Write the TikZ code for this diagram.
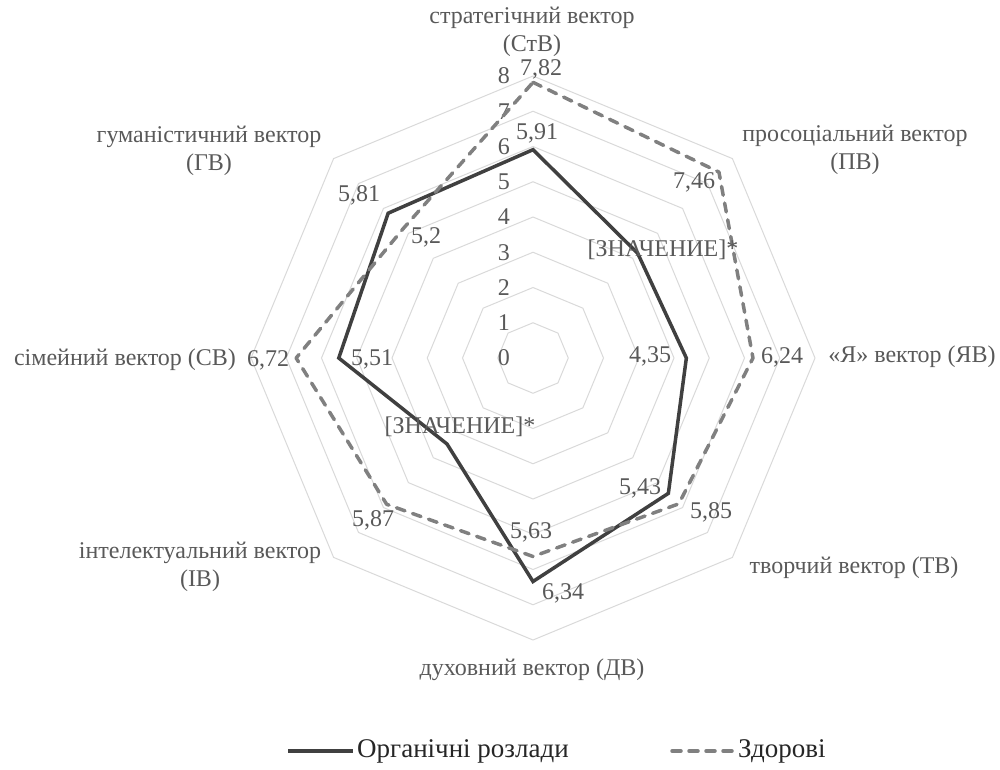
\documentclass[tikz,border=0pt]{standalone}
\usepackage{fontspec}
\setmainfont{Liberation Serif}
\definecolor{gridgray}{HTML}{D9D9D9}
\definecolor{txtgray}{HTML}{595959}
\definecolor{solidcol}{HTML}{404040}
\definecolor{dashcol}{HTML}{808080}
\definecolor{legtxt}{HTML}{262626}
\begin{document}
\begin{tikzpicture}[x=1pt,y=-1pt,
  gridline/.style={draw=gridgray, line width=1pt},
  lab/.style={text=txtgray, font=\fontsize{24}{28}\selectfont, inner sep=0pt, align=center},
  vlab/.style={text=txtgray, font=\fontsize{24}{28}\selectfont, inner sep=0pt},
  ringlab/.style={text=txtgray, font=\fontsize{24}{28}\selectfont, inner sep=0pt, anchor=east},
  legtext/.style={text=legtxt, font=\fontsize{27}{31}\selectfont, inner sep=0pt, anchor=west},
  solidser/.style={draw=solidcol, line width=3.5pt, line join=miter},
  dashser/.style={draw=dashcol, line width=3.5pt, line cap=round, line join=round, dash pattern=on 9pt off 8pt}]
\useasboundingbox (0,0) rectangle (1000,769);
\def\cx{533}\def\cy{358}\def\unitR{35.25}
% grid rings
\foreach \r in {1,...,8}{
  \draw[gridline] ({\cx},{\cy-\r*\unitR})
    \foreach \k in {1,...,7}{ -- ({\cx+\r*\unitR*sin(45*\k)},{\cy-\r*\unitR*cos(45*\k)}) } -- cycle;
  \node[ringlab] (r\r) at (510,{\cy-\r*\unitR}) {\r};
}
\node[ringlab] (r0) at (510,\cy) {0};
% data points
\foreach \v [count=\k from 0] in {5.91,4.2,4.35,5.43,6.34,3.45,5.51,5.81}{
  \coordinate (s\k) at ({\cx+\unitR*\v*sin(45*\k)},{\cy-\unitR*\v*cos(45*\k)});
}
\foreach \v [count=\k from 0] in {7.82,7.46,6.24,5.85,5.63,5.87,6.72,5.2}{
  \coordinate (d\k) at ({\cx+\unitR*\v*sin(45*\k)},{\cy-\unitR*\v*cos(45*\k)});
}
\draw[solidser] (s0) -- (s1) -- (s2) -- (s3) -- (s4) -- (s5) -- (s6) -- (s7) -- cycle;
\draw[dashser] (d0) -- (d1) -- (d2) -- (d3) -- (d4) -- (d5) -- (d6) -- (d7) -- cycle;
% axis labels
\node[lab] (aSt) at (532,32) {стратегічний вектор\\(СтВ)};
\node[lab] (aP) at (855,150) {просоціальний вектор\\(ПВ)};
\node[lab] (aJa) at (912,357) {«Я» вектор (ЯВ)};
\node[lab] (aT) at (854,568) {творчий вектор (ТВ)};
\node[lab] (aD) at (532,670) {духовний вектор (ДВ)};
\node[lab] (aI) at (200,567) {інтелектуальний вектор\\(ІВ)};
\node[lab] (aS) at (125,360) {сімейний вектор (СВ)};
\node[lab] (aG) at (209,151) {гуманістичний вектор\\(ГВ)};
% solid series labels
\node[vlab] (ls0) at (537,133) {5,91};
\node[vlab] (ls1) at (663,250) {[ЗНАЧЕНИЕ]*};
\node[vlab] (ls2) at (650,356) {4,35};
\node[vlab] (ls3) at (640,488) {5,43};
\node[vlab] (ls4) at (563,593) {6,34};
\node[vlab] (ls5) at (460,427) {[ЗНАЧЕНИЕ]*};
\node[vlab] (ls6) at (372,359) {5,51};
\node[vlab] (ls7) at (359,195) {5,81};
% dashed series labels
\node[vlab] (ld0) at (541,69) {7,82};
\node[vlab] (ld1) at (694,182) {7,46};
\node[vlab] (ld2) at (782,357) {6,24};
\node[vlab] (ld3) at (711,512) {5,85};
\node[vlab] (ld4) at (531,532) {5,63};
\node[vlab] (ld5) at (373,520) {5,87};
\node[vlab] (ld6) at (268,360) {6,72};
\node[vlab] (ld7) at (426,237) {5,2};
% legend
\coordinate (l1a) at (288,751);
\coordinate (l1b) at (353,751);
\draw[solidser] (l1a) -- (l1b);
\node[legtext] (lt1) at (357,751) {Органічні розлади};
\coordinate (l2a) at (672,751);
\coordinate (l2b) at (733,751);
\draw[dashser] (l2a) -- (l2b);
\node[legtext] (lt2) at (738,751) {Здорові};
\end{tikzpicture}
\end{document}
